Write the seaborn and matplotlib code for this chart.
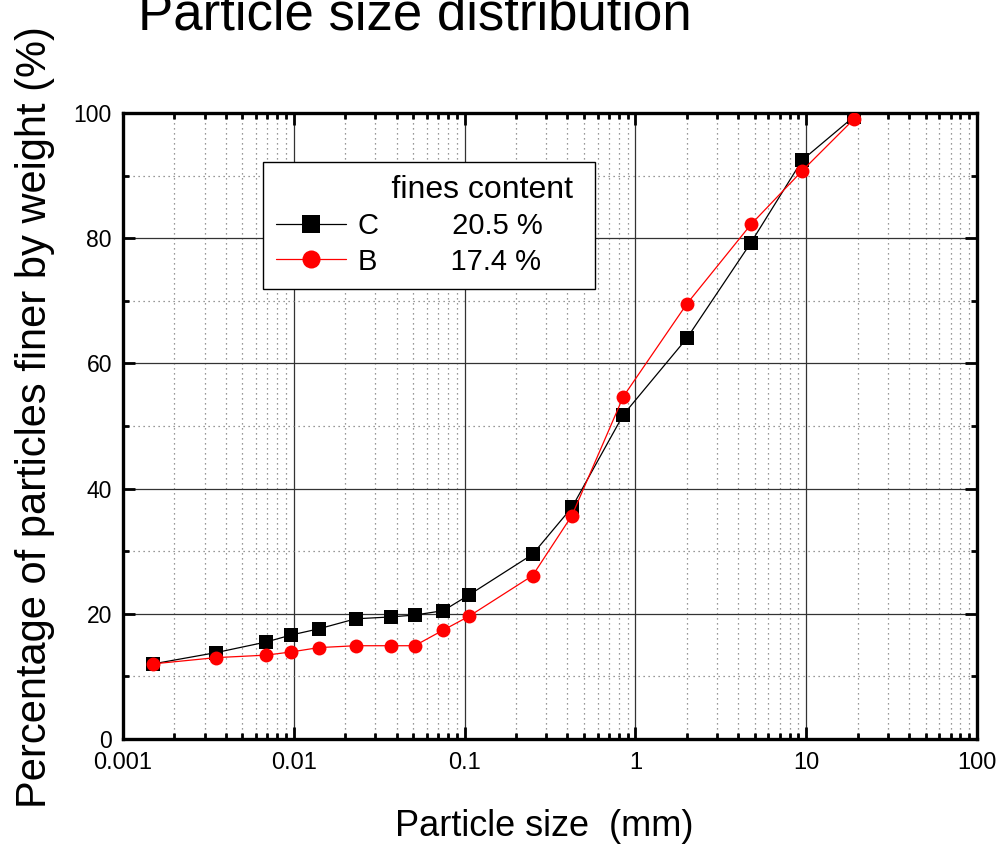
import numpy as np
import pandas as pd
import seaborn as sns
import matplotlib.pyplot as plt
from matplotlib.ticker import LogLocator, MultipleLocator, FuncFormatter

# particle size (mm) and percent finer
size = [0.0015, 0.0035, 0.0069, 0.0096, 0.014, 0.023, 0.037, 0.051, 0.075,
        0.106, 0.25, 0.425, 0.85, 2.0, 4.75, 9.5, 19.0]
finer_c = [12.0, 13.8, 15.5, 16.6, 17.6, 19.2, 19.5, 19.8, 20.5,
           23.0, 29.5, 37.0, 51.8, 64.0, 79.3, 92.5, 99.4]
finer_b = [12.0, 13.0, 13.4, 13.9, 14.6, 14.9, 14.9, 14.9, 17.4,
           19.6, 26.1, 35.7, 54.7, 69.5, 82.2, 90.8, 99.0]
fines = {'C': '20.5 %', 'B': '17.4 %'}
x_ticks = [0.001, 0.01, 0.1, 1, 10, 100]
y_ticks = [0, 20, 40, 60, 80, 100]

sns.set_style('ticks')
plt.rcParams['font.family'] = ['Liberation Sans', 'DejaVu Sans']
plt.rcParams['text.color'] = 'black'
plt.rcParams['axes.labelcolor'] = 'black'
plt.rcParams['xtick.color'] = 'black'
plt.rcParams['ytick.color'] = 'black'

df = pd.DataFrame({'size': size, 'C': finer_c, 'B': finer_b})

fig = plt.figure(figsize=(10.01, 8.47), dpi=100)
ax = fig.add_axes([0.1229, 0.1275, 0.8531, 0.7391])

sns.lineplot(data=df, x='size', y='C', ax=ax, color='black', linewidth=0.9,
             marker='s', markersize=9.5, markeredgecolor='black', markeredgewidth=0,
             label='C         ' + fines['C'], zorder=3)
sns.lineplot(data=df, x='size', y='B', ax=ax, color='red', linewidth=0.9,
             marker='o', markersize=10, markeredgecolor='red', markeredgewidth=0,
             label='B         ' + fines['B'], zorder=4)

ax.set_xscale('log')
ax.set_xlim(0.001, 100)
ax.set_ylim(0, 100)
ax.set_xticks(x_ticks)
ax.xaxis.set_major_formatter(FuncFormatter(lambda v, p: '{:g}'.format(v)))
ax.xaxis.set_minor_locator(LogLocator(base=10, subs=np.arange(2, 10), numticks=20))
ax.set_yticks(y_ticks)
ax.yaxis.set_minor_locator(MultipleLocator(10))

ax.grid(which='major', color='#333333', linewidth=0.9, linestyle='-')
ax.grid(which='minor', color='#777777', linewidth=0.9, linestyle=(0, (1, 3)))
ax.set_axisbelow(True)

ax.tick_params(which='both', direction='in', top=True, right=True, width=2)
ax.tick_params(which='major', length=8.5)
ax.tick_params(which='minor', length=4)
ax.tick_params(axis='x', labelsize=17, pad=9)
ax.tick_params(axis='y', labelsize=16.5, pad=8)
for s in ax.spines.values():
    s.set_linewidth(2.4)
    s.set_color('black')

ax.set_xlabel('')
ax.set_ylabel('')

leg = ax.legend(loc='upper left', bbox_to_anchor=(0.164, 0.922),
                title='             fines content ', alignment='left',
                fontsize=21, title_fontsize=23, frameon=True, fancybox=False,
                framealpha=1, edgecolor='black', markerscale=1.3,
                handlelength=2.4, handletextpad=0.4, labelspacing=0.25,
                borderpad=0.45, borderaxespad=0)
leg.get_frame().set_linewidth(1.0)

fig.text(0.138, 1 - 29 / 847, 'Particle size distribution', fontsize=38,
         ha='left', va='baseline')
fig.text(0.035, 0.508, 'Percentage of particles finer by weight (%)', fontsize=30,
         rotation=90, ha='center', va='center')
fig.text(0.5435, 1 - 836 / 847, 'Particle size  (mm)', fontsize=26,
         ha='center', va='baseline')

fig.savefig('out.png', dpi=100)
